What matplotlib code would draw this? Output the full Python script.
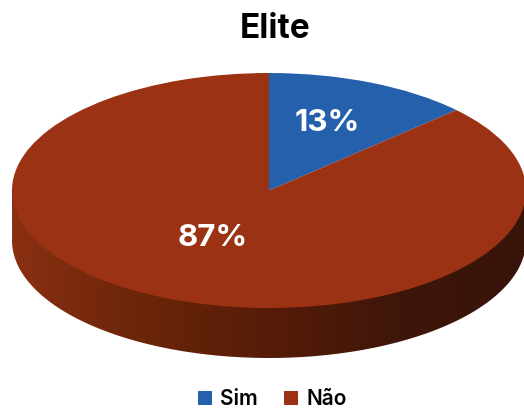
import numpy as np
import matplotlib.pyplot as plt
from matplotlib.colors import LinearSegmentedColormap
from matplotlib.path import Path
from matplotlib.patches import PathPatch

labels = ["Sim", "Não"]
values = [13, 87]
colors = ["#2560ac", "#9a3213"]
title = "Elite"

W, H = 524, 408
# pie ellipse in pixels
cx, cy, rx, ry, depth = 269, 190.5, 257, 117.5, 50

plt.rcParams['font.family'] = ['Inter', 'DejaVu Sans']

fig = plt.figure(figsize=(W / 100, H / 100), dpi=100, facecolor="white")
# axes box covers exactly the unit square of the pie, stretched to an ellipse
ax = fig.add_axes([(cx - rx) / W, 1 - (cy + ry + depth) / H, 2 * rx / W, (2 * ry + depth) / H])
wedges, _ = ax.pie(values, colors=colors, startangle=90, counterclock=False, radius=1,
                   wedgeprops=dict(linewidth=0, zorder=3))
d = depth / ry
ax.set_aspect("auto")
ax.set_xlim(-1, 1)
ax.set_ylim(-1 - d, 1)
ax.set_frame_on(False)

# side wall of the disc, darkening towards the right; its top edge hides under the pie
t = np.linspace(np.pi, 2 * np.pi, 200)
lower = np.c_[np.cos(t), np.sin(t) - d]
verts = np.vstack([[[-1, 0]], lower, [[1, 0], [-1, 0]]])
wall = PathPatch(Path(verts), facecolor="none", edgecolor="none", transform=ax.transData)
ax.add_patch(wall)
side = LinearSegmentedColormap.from_list("side", ["#8a3012", "#6b2509", "#561c08", "#3f1609", "#38130a"])
img = ax.imshow(np.linspace(0, 1, 256)[None, :], cmap=side, extent=(-1, 1, -1 - d, 1),
                aspect="auto", zorder=2)
img.set_clip_path(wall)

# label positions in pixels
for txt, (px, py) in zip([f"{v}%" for v in values], [(327, 120), (213, 235)]):
    fig.text(px / W, 1 - py / H, txt, color="white", fontsize=22.5, fontweight="bold",
             ha="center", va="center_baseline")

fig.text(275.5 / W, 1 - 26 / H, title, color="black", fontsize=24, fontweight="bold",
         ha="center", va="center_baseline")

fig.legend(wedges, labels, loc="center", bbox_to_anchor=(272 / W, 1 - 399 / H), ncols=2,
           frameon=False, handlelength=0.67, handleheight=0.67,
           handletextpad=0.4, columnspacing=1.25, borderpad=0, labelcolor="black",
           prop=dict(weight="semibold", size=15))

fig.savefig("out.png", dpi=100)
